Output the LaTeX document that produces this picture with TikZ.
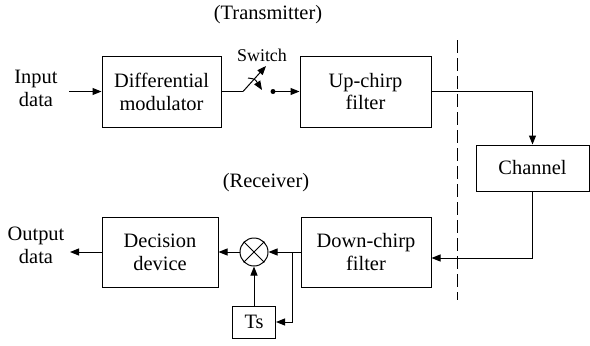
\documentclass[tikz,border=0pt]{standalone}
\usepackage{fontspec}
\setmainfont{Liberation Serif}
\usetikzlibrary{arrows.meta}
\begin{document}
\begin{tikzpicture}[x=1bp,y=-1bp,
  blk/.style={draw,line width=1bp,minimum width=#1,align=center,inner sep=0pt},
  lbl/.style={align=center,inner sep=0pt,font=\fontsize{20.5}{23}\selectfont},
  ln/.style={line width=1bp},
  arr/.style={line width=1bp,-{Triangle[length=9bp,width=7bp]}},
  font=\fontsize{20.5}{23}\selectfont]
\useasboundingbox (0,0) rectangle (590,345);
% blocks
\node[blk=119bp,minimum height=71bp] (dm) at (161.5,91.5) {Differential\\modulator};
\node[blk=131bp,minimum height=71bp] (up) at (365.5,91.5) {Up-chirp\\filter};
\node[blk=113bp,minimum height=46bp] (ch) at (532.5,168) {Channel};
\node[blk=130bp,minimum height=70bp] (dc) at (366,252) {Down-chirp\\filter};
\node[blk=116bp,minimum height=70bp] (dd) at (160,252) {Decision\\device};
\node[draw,line width=1bp,circle,minimum size=28bp,inner sep=0pt] (mul) at (254,252) {};
\draw[line width=1bp] (mul.north west) -- (mul.south east) (mul.north east) -- (mul.south west);
\node[blk=43bp,minimum height=32bp] (ts) at (254,322) {Ts};
% labels
\node[lbl] (tx) at (268,15) {(Transmitter)};
\node[lbl] (rx) at (266,183) {(Receiver)};
\node[lbl] (in) at (36,88) {Input\\data};
\node[lbl] (out) at (36,245) {Output\\data};
\node[align=center,inner sep=0pt,font=\fontsize{18}{20}\selectfont] (swl) at (262,55) {Switch};
% input/output
\coordinate (inA) at (69,91.5);
\coordinate (outA) at (70,252);
\draw[arr] (inA) -- (dm.west);
\draw[arr] (dd.west) -- (outA);
% switch
\coordinate (s1) at (243,91.5);
\coordinate (s2) at (266,66);
\coordinate (c1) at (248,78);
\coordinate (c2) at (262,90);
\coordinate (dot) at (273,91.5);
\draw[ln] (dm.east) -- (s1);
\draw[arr] (s1) -- (s2);
\draw[arr] (c1) .. controls (255,79) .. (c2);
\fill (dot) circle (2.5bp);
\draw[arr] (dot) -- (up.west);
% channel path
\draw[arr] (up.east) -| (ch.north);
\draw[arr] (ch.south) |- ([yshift=-6bp]dc.east);
% receiver
\coordinate (j) at (292,252);
\draw[arr] (dc.west) -- (mul.east);
\draw[arr] (mul.west) -- (dd.east);
\draw[arr] (j) |- (ts.east);
\draw[arr] (ts.north) -- (mul.south);
% dashed separator
\coordinate (d1) at (457,40);
\coordinate (d2) at (457,300);
\draw[line width=1bp,dash pattern=on 13bp off 5bp] (d1) -- (d2);
\end{tikzpicture}
\end{document}
